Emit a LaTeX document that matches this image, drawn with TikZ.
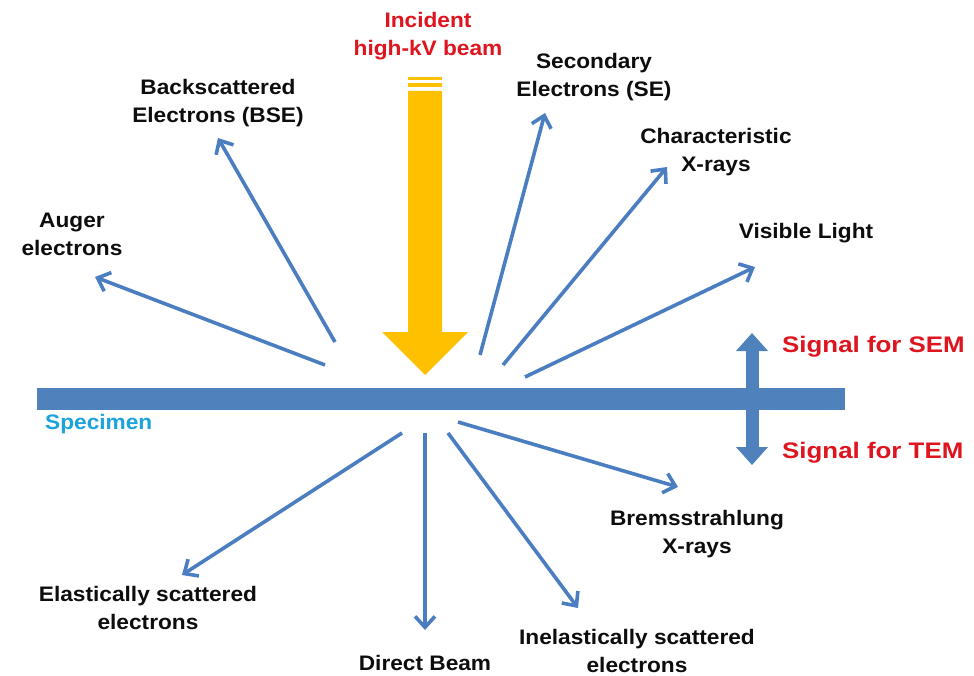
\documentclass[tikz,border=0pt]{standalone}
\usepackage{fontspec}
\setmainfont{Liberation Sans}[FakeStretch=1.08]
\newfontfamily\sigfont{Liberation Sans}[FakeStretch=1.15]
\usetikzlibrary{arrows.meta}
\definecolor{raycol}{RGB}{74,126,193}
\definecolor{barcol}{RGB}{79,129,189}
\definecolor{beamcol}{RGB}{255,192,0}
\definecolor{sigred}{RGB}{222,20,30}
\definecolor{speccol}{RGB}{28,163,220}
\begin{document}
\begin{tikzpicture}[x=1pt,y=-1pt,
  lbl/.style={font=\fontsize{21}{28}\selectfont\bfseries, align=center, inner sep=0pt, text=black!95},
  redlbl/.style={lbl, text=sigred},
  siglbl/.style={font=\sigfont\fontsize{22.5}{26}\selectfont\bfseries, text=sigred, inner sep=0pt, anchor=west},
  ray/.style={draw=raycol, line width=3.6pt, -{Straight Barb[length=11pt,width=20pt]}},
  dbl/.style={draw=barcol, line width=13pt, {Triangle[length=18pt,width=31pt]}-{Triangle[length=18pt,width=31pt]}},
]
\useasboundingbox (0,0) rectangle (974,676);
\fill[white] (0,0) rectangle (974,676);

% specimen bar
\fill[barcol] (37,388) rectangle (845,410);
\node[lbl, text=speccol, anchor=west, font=\fontsize{21}{24}\selectfont\bfseries] (spec) at (45,424) {Specimen};

% signal double arrow
\coordinate (sigtop) at (752,333);
\coordinate (sigbot) at (752,465);
\draw[dbl] (sigtop) -- (sigbot);
\node[siglbl] (sem) at (782,347) {Signal for SEM};
\node[siglbl] (tem) at (782,453) {Signal for TEM};

% incident beam
\node[redlbl] (inc) at (428,36) {Incident\\high-kV beam};
\fill[beamcol] (408,77) rectangle (442,80);
\fill[beamcol] (408,83) rectangle (442,87);
\fill[beamcol] (408,91) -- (442,91) -- (442,332) -- (468,332) -- (425,375) -- (382,332) -- (408,332) -- cycle;
\coordinate (beamtip) at (425,375);

% labels
\node[lbl] (bse) at (218,103) {Backscattered\\Electrons (BSE)};
\node[lbl] (aug) at (72,234) {Auger\\electrons};
\node[lbl] (se) at (594,77) {Secondary\\Electrons (SE)};
\node[lbl] (chr) at (716,152) {Characteristic\\X-rays};
\node[lbl] (vis) at (806,233) {Visible Light};
\node[lbl] (brm) at (697,534) {Bremsstrahlung\\X-rays};
\node[lbl] (ela) at (148,608) {Elastically scattered\\electrons};
\node[lbl] (dir) at (425,663) {Direct Beam};
\node[lbl] (ine) at (637,651) {Inelastically scattered\\electrons};

% ray coordinates
\coordinate (augS) at (325,365); \coordinate (augT) at (95,277);
\coordinate (bseS) at (335,342); \coordinate (bseT) at (218,138);
\coordinate (seS) at (480,355);  \coordinate (seT) at (545,113);
\coordinate (chrS) at (503,365); \coordinate (chrT) at (667,167);
\coordinate (visS) at (525,377); \coordinate (visT) at (755,267);
\coordinate (elaS) at (402,433); \coordinate (elaT) at (182,575);
\coordinate (dirS) at (425,433); \coordinate (dirT) at (425,630);
\coordinate (ineS) at (448,433); \coordinate (ineT) at (578,608);
\coordinate (brmS) at (458,422); \coordinate (brmT) at (678,487);

\draw[ray] (augS) -- (augT);
\draw[ray] (bseS) -- (bseT);
\draw[ray] (seS) -- (seT);
\draw[ray] (chrS) -- (chrT);
\draw[ray] (visS) -- (visT);
\draw[ray] (elaS) -- (elaT);
\draw[ray] (dirS) -- (dirT);
\draw[ray] (ineS) -- (ineT);
\draw[ray] (brmS) -- (brmT);
\end{tikzpicture}
\end{document}
